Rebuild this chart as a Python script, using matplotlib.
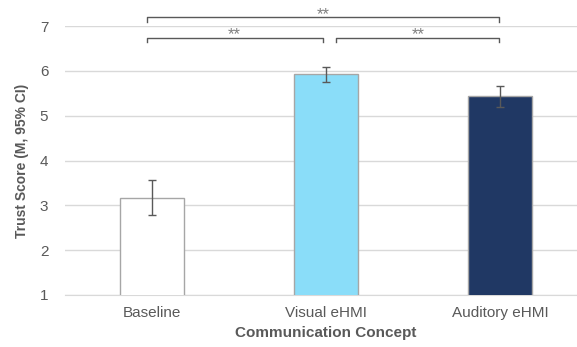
import numpy as np
import matplotlib
matplotlib.use('Agg')
import matplotlib.pyplot as plt

plt.rcParams['font.family'] = ['Liberation Sans', 'DejaVu Sans']

# Datos
categorias = ['Baseline', 'Visual eHMI', 'Auditory eHMI']
medias = [3.17, 5.93, 5.43]
ci_bajo = [2.78, 5.75, 5.20]
ci_alto = [3.56, 6.09, 5.67]
colores = ['#ffffff', '#8addf9', '#203864']

# Comparaciones significativas (i, j, altura, texto)
pares = [(0, 2, 7.2, '**'), (0, 1, 6.74, '**'), (1, 2, 6.74, '**')]

gris = '#595959'

fig = plt.figure(figsize=(5.77, 3.47), dpi=100)
ax = fig.add_axes([65/577, (347-295)/347, (587-65)/577, (295-26)/347])

x = np.arange(len(categorias))
err = [np.array(medias) - np.array(ci_bajo), np.array(ci_alto) - np.array(medias)]
ax.bar(x, medias, width=0.37, color=colores, edgecolor='#a6a6a6',
       linewidth=1, zorder=3)
ax.errorbar(x, medias, yerr=err, fmt='none', ecolor=gris, elinewidth=1,
            capsize=3, capthick=1, zorder=4)

ax.set_ylim(1, 7)
ax.set_xlim(-0.5, 2.5)
ax.set_yticks(range(1, 8))
ax.grid(axis='y', color='#d9d9d9', linewidth=1, zorder=0)
for s in ['top', 'right', 'left']:
    ax.spines[s].set_visible(False)
ax.spines['bottom'].set_color('#d9d9d9')
ax.set_xticks(x)
ax.set_xticklabels(categorias)
ax.tick_params(axis='both', length=0, colors=gris, labelsize=11)
ax.tick_params(axis='x', pad=8)
ax.tick_params(axis='y', pad=12)

ax.set_xlabel('Communication Concept', fontsize=11, fontweight='bold', color=gris, labelpad=4)
ax.set_ylabel('Trust Score (M, 95% CI)', fontsize=10, fontweight='bold', color=gris, labelpad=8)

# Llaves de significancia
for i, j, h, txt in pares:
    xi, xj = x[i] - 0.03, x[j] - 0.005
    if i == 0 and j == 1:
        xj = x[j] - 0.02
    elif i == 1 and j == 2:
        xi = x[i] + 0.06
    ax.plot([xi, xi, xj, xj], [h - 0.1, h, h, h - 0.1], color=gris, lw=1,
            clip_on=False, zorder=5)
    ax.text((xi + xj) / 2, h - 0.04, txt, ha='center', va='baseline',
            fontsize=12, color='#808080')

plt.savefig('out.png', dpi=100)
